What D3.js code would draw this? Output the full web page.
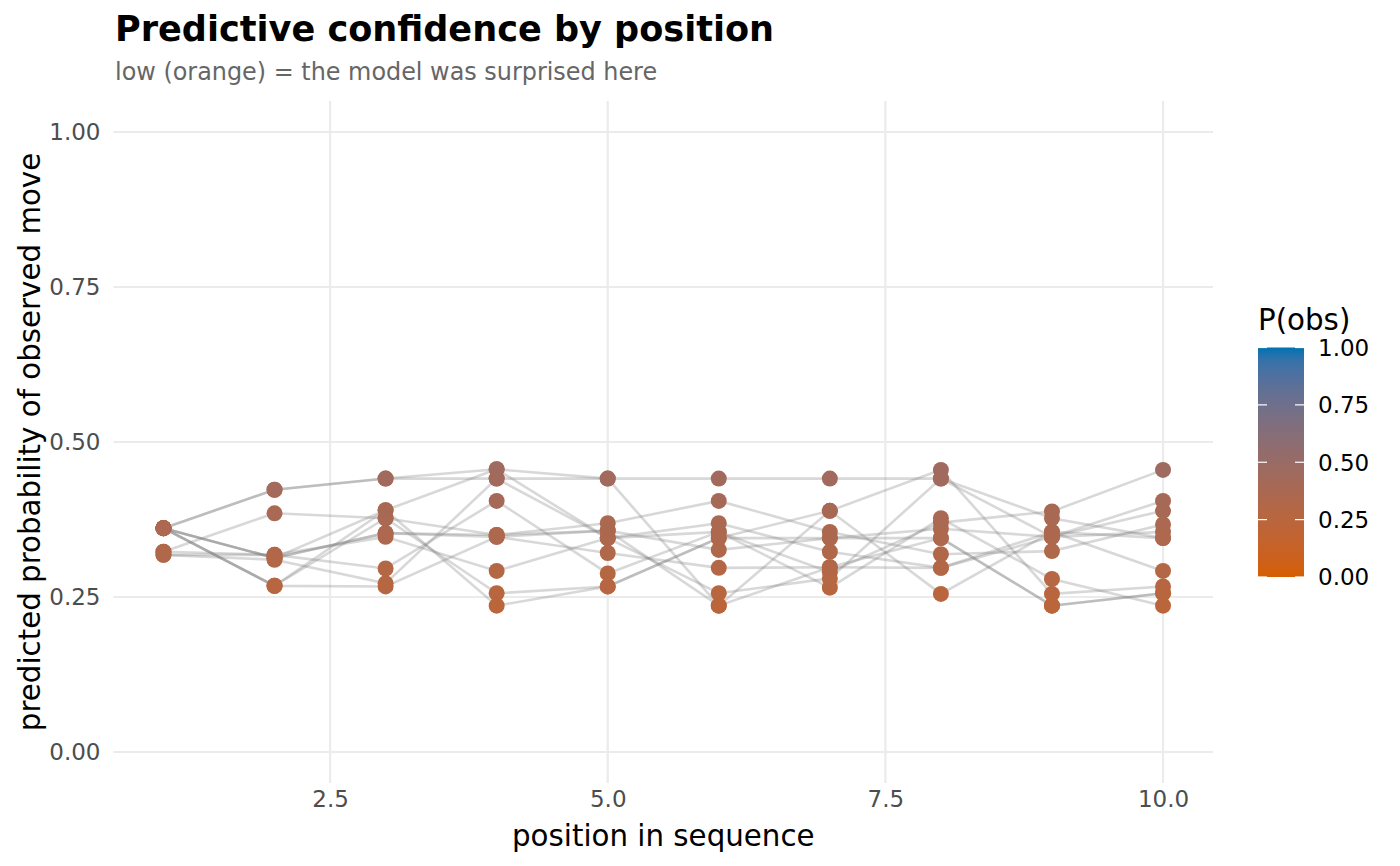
<!DOCTYPE html>
<html>
<head>
<meta charset="utf-8">
<script src="https://cdn.jsdelivr.net/npm/d3@7"></script>
<style>
  body { margin: 0; background: #fff; }
  text { font-family: "DejaVu Sans", sans-serif; }
</style>
</head>
<body>
<div id="chart"></div>
<script>
// positions along the sequence
const positions = [1, 2, 3, 4, 5, 6, 7, 8, 9, 10];

// predicted probability of the observed move, one array per sequence
const seq01 = [0.361, 0.423, 0.441, 0.441, 0.441, 0.441, 0.441, 0.441, 0.377, 0.345];
const seq02 = [0.361, 0.423, 0.441, 0.456, 0.441, 0.236, 0.389, 0.455, 0.255, 0.267];
const seq03 = [0.361, 0.313, 0.390, 0.456, 0.345, 0.355, 0.290, 0.370, 0.388, 0.455];
const seq04 = [0.361, 0.313, 0.353, 0.347, 0.357, 0.326, 0.345, 0.345, 0.236, 0.256];
const seq05 = [0.361, 0.268, 0.377, 0.256, 0.267, 0.345, 0.345, 0.360, 0.347, 0.389];
const seq06 = [0.361, 0.268, 0.267, 0.347, 0.321, 0.297, 0.298, 0.297, 0.347, 0.355];
const seq07 = [0.323, 0.385, 0.377, 0.350, 0.369, 0.405, 0.355, 0.319, 0.324, 0.367];
const seq08 = [0.323, 0.318, 0.296, 0.405, 0.288, 0.355, 0.265, 0.377, 0.279, 0.236];
const seq09 = [0.318, 0.318, 0.347, 0.292, 0.345, 0.369, 0.323, 0.297, 0.355, 0.292];
const seq10 = [0.318, 0.310, 0.272, 0.441, 0.345, 0.256, 0.280, 0.441, 0.347, 0.405];
const seq11 = [0.361, 0.268, 0.390, 0.236, 0.267, 0.345, 0.389, 0.255, 0.355, 0.345];
const seq12 = [0.361, 0.313, 0.353, 0.350, 0.357, 0.236, 0.298, 0.345, 0.236, 0.256];
const sequences = [seq01, seq02, seq03, seq04, seq05, seq06, seq07, seq08, seq09, seq10, seq11, seq12];

const xTicks = [2.5, 5.0, 7.5, 10.0];
const yTicks = [0, 0.25, 0.5, 0.75, 1.0];
const legendTicks = [0, 0.25, 0.5, 0.75, 1.0];

const W = 1400, H = 866;
const panel = { left: 113.5, right: 1213, top: 101, bottom: 783 };

const svg = d3.select("#chart")
  .append("svg")
  .attr("width", W)
  .attr("height", H);

const x = d3.scaleLinear()
  .domain([0.55, 10.45])
  .range([panel.left, panel.right]);

const y = d3.scaleLinear()
  .domain([-0.05, 1.05])
  .range([panel.bottom, panel.top]);

const color = d3.scaleLinear()
  .domain([0, 1])
  .range(["#D55E00", "#0072B2"])
  .interpolate(d3.interpolateLab);

// grid
const grid = svg.append("g");
grid.selectAll(".gx")
  .data(xTicks)
  .join("line")
  .attr("x1", d => x(d)).attr("x2", d => x(d))
  .attr("y1", panel.top).attr("y2", panel.bottom)
  .attr("stroke", "#ebebeb").attr("stroke-width", 2.2);
grid.selectAll(".gy")
  .data(yTicks)
  .join("line")
  .attr("y1", d => y(d)).attr("y2", d => y(d))
  .attr("x1", panel.left).attr("x2", panel.right)
  .attr("stroke", "#ebebeb").attr("stroke-width", 2.2);

// lines
const line = d3.line()
  .x((d, i) => x(positions[i]))
  .y(d => y(d));

svg.append("g")
  .selectAll("path")
  .data(sequences)
  .join("path")
  .attr("d", line)
  .attr("fill", "none")
  .attr("stroke", "#7f7f7f")
  .attr("stroke-opacity", 0.3)
  .attr("stroke-width", 2.6);

// points
const pts = sequences.flatMap(s => s.map((v, i) => ({ pos: positions[i], v })));
svg.append("g")
  .selectAll("circle")
  .data(pts)
  .join("circle")
  .attr("cx", d => x(d.pos))
  .attr("cy", d => y(d.v))
  .attr("r", 8)
  .attr("fill", d => color(d.v));

// axes (text only, like theme_minimal)
const xAxis = svg.append("g")
  .attr("transform", `translate(0,${panel.bottom})`)
  .call(d3.axisBottom(x).tickValues(xTicks).tickFormat(d3.format(".1f")).tickSize(0).tickPadding(8));
xAxis.select(".domain").remove();
xAxis.selectAll("text")
  .attr("font-family", "DejaVu Sans")
  .attr("font-size", 23)
  .attr("fill", "#4d4d4d");

const yAxis = svg.append("g")
  .attr("transform", `translate(${panel.left},0)`)
  .call(d3.axisLeft(y).tickValues(yTicks).tickFormat(d3.format(".2f")).tickSize(0).tickPadding(13));
yAxis.select(".domain").remove();
yAxis.selectAll("text")
  .attr("font-family", "DejaVu Sans")
  .attr("font-size", 23)
  .attr("fill", "#4d4d4d");

// axis titles
svg.append("text")
  .attr("x", (panel.left + panel.right) / 2)
  .attr("y", 846)
  .attr("text-anchor", "middle")
  .attr("font-size", 29.3)
  .text("position in sequence");

svg.append("text")
  .attr("transform", `translate(40,${(panel.top + panel.bottom) / 2}) rotate(-90)`)
  .attr("text-anchor", "middle")
  .attr("font-size", 29.3)
  .text("predicted probability of observed move");

// title & subtitle
svg.append("text")
  .attr("x", 115)
  .attr("y", 41)
  .attr("font-size", 35.1)
  .attr("font-weight", "bold")
  .text("Predictive confidence by position");

svg.append("text")
  .attr("x", 115)
  .attr("y", 80)
  .attr("font-size", 23.9)
  .attr("fill", "#666666")
  .text("low (orange) = the model was surprised here");

// legend colourbar
const lg = { x: 1258, w: 46, top: 347.5, bottom: 577 };
const ly = d3.scaleLinear().domain([0, 1]).range([lg.bottom, lg.top]);

const defs = svg.append("defs");
const grad = defs.append("linearGradient")
  .attr("id", "pgrad")
  .attr("x1", 0).attr("y1", 1).attr("x2", 0).attr("y2", 0);
grad.selectAll("stop")
  .data(d3.range(0, 1.0001, 0.05))
  .join("stop")
  .attr("offset", d => d)
  .attr("stop-color", d => color(d));

svg.append("rect")
  .attr("x", lg.x).attr("y", lg.top)
  .attr("width", lg.w).attr("height", lg.bottom - lg.top)
  .attr("fill", "url(#pgrad)");

const lt = svg.append("g");
lt.selectAll(".tl")
  .data(legendTicks)
  .join("line")
  .attr("x1", lg.x).attr("x2", lg.x + 9)
  .attr("y1", d => ly(d)).attr("y2", d => ly(d))
  .attr("stroke", "#fff").attr("stroke-width", 1.2);
lt.selectAll(".tr")
  .data(legendTicks)
  .join("line")
  .attr("x1", lg.x + lg.w - 9).attr("x2", lg.x + lg.w)
  .attr("y1", d => ly(d)).attr("y2", d => ly(d))
  .attr("stroke", "#fff").attr("stroke-width", 1.2);

lt.selectAll("text")
  .data(legendTicks)
  .join("text")
  .attr("x", lg.x + lg.w + 14)
  .attr("y", d => ly(d))
  .attr("dy", "0.36em")
  .attr("font-size", 23)
  .text(d => d3.format(".2f")(d));

svg.append("text")
  .attr("x", lg.x)
  .attr("y", 330)
  .attr("font-size", 29.3)
  .text("P(obs)");
</script>
</body>
</html>
